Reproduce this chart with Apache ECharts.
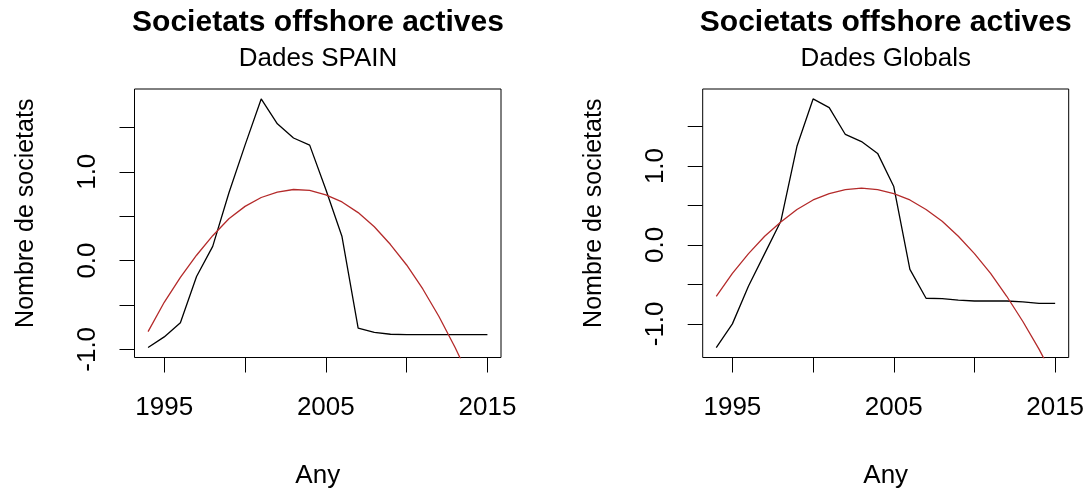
<!DOCTYPE html>
<html>
<head>
<meta charset="utf-8">
<title>Societats offshore actives</title>
<script src="https://cdn.jsdelivr.net/npm/echarts@6/dist/echarts.min.js"></script>
<style>
  html, body { margin: 0; padding: 0; background: #ffffff; }
  #chart { width: 1088px; height: 488px; }
</style>
</head>
<body>
<div id="chart"></div>
<script>
// Years covered by both series
const years = [1994, 1995, 1996, 1997, 1998, 1999, 2000, 2001, 2002, 2003, 2004,
               2005, 2006, 2007, 2008, 2009, 2010, 2011, 2012, 2013, 2014, 2015];

// Standardised count of active offshore companies, Spain
const spainValues = [-0.98, -0.86, -0.70, -0.18, 0.16, 0.76, 1.30, 1.82, 1.54, 1.38, 1.30,
                     0.80, 0.27, -0.76, -0.81, -0.83, -0.835, -0.835, -0.835, -0.835, -0.835, -0.835];
// Quadratic trend for Spain
const spainTrend = [-0.80, -0.47, -0.19, 0.06, 0.28, 0.47, 0.61, 0.71, 0.77, 0.80, 0.79,
                    0.74, 0.66, 0.54, 0.38, 0.18, -0.05, -0.32, -0.63, -0.98, -1.36, -1.78];

// Standardised count of active offshore companies, global data
const globalValues = [-1.30, -1.00, -0.52, -0.11, 0.30, 1.25, 1.85, 1.74, 1.40, 1.31, 1.16,
                      0.74, -0.31, -0.675, -0.68, -0.70, -0.71, -0.71, -0.71, -0.72, -0.74, -0.74];
// Quadratic trend for global data
const globalTrend = [-0.65, -0.36, -0.11, 0.11, 0.29, 0.45, 0.57, 0.65, 0.70, 0.72, 0.70,
                     0.65, 0.57, 0.45, 0.30, 0.11, -0.11, -0.36, -0.65, -0.97, -1.32, -1.71];

// Axis ticks and labels
const xTicks = [1995, 2000, 2005, 2010, 2015];
const xLabels = [1995, 2005, 2015];
const yTicks = [-1.0, -0.5, 0.0, 0.5, 1.0, 1.5];
const yLabels = [-1.0, 0.0, 1.0];

const mainTitle = 'Societats offshore actives';
const subTitles = ['Dades SPAIN', 'Dades Globals'];
const xName = 'Any';
const yName = 'Nombre de societats';

const FONT = '"Liberation Sans", Arial, Helvetica, sans-serif';
const BLACK_LINE = '#000000';
const TREND_LINE = '#b42a2a';

// Range padded by 4% on each side, like a default statistical plot
function paddedRange(values) {
  const lo = Math.min.apply(null, values);
  const hi = Math.max.apply(null, values);
  const pad = (hi - lo) * 0.04;
  return [lo - pad, hi + pad];
}

const xRange = paddedRange(years);
const yRanges = [paddedRange(spainValues), paddedRange(globalValues)];

const panels = [
  { left: 134.5, width: 366.5, center: 318 },
  { left: 702.7, width: 366, center: 885.7 }
];
const gridTop = 89;
const gridHeight = 268.5;

const pairs = (vals) => years.map((y, i) => [y, vals[i]]);

const option = {
  animation: false,
  backgroundColor: '#ffffff',
  title: panels.flatMap((p, i) => [
    {
      text: mainTitle,
      left: p.center, top: 8, padding: 0, textAlign: 'center',
      textStyle: { fontFamily: FONT, fontSize: 30, fontWeight: 'bold', color: '#000' }
    },
    {
      text: subTitles[i],
      left: p.center, top: 46, padding: 0, textAlign: 'center',
      textStyle: { fontFamily: FONT, fontSize: 26, fontWeight: 'normal', color: '#000' }
    }
  ]),
  grid: panels.map(p => ({
    left: p.left, top: gridTop, width: p.width, height: gridHeight,
    show: true, borderColor: '#000', borderWidth: 1, backgroundColor: 'transparent',
    containLabel: false, outerBoundsMode: 'none'
  })),
  xAxis: panels.map((p, i) => ({
    gridIndex: i, type: 'value', min: xRange[0], max: xRange[1],
    name: xName, nameLocation: 'middle', nameGap: 105,
    nameTextStyle: { fontFamily: FONT, fontSize: 26, color: '#000' },
    axisLine: { show: false, onZero: false },
    axisTick: { show: true, length: 15, customValues: xTicks, lineStyle: { color: '#000', width: 1 } },
    axisLabel: {
      customValues: xLabels, margin: 37, fontFamily: FONT, fontSize: 26, color: '#000',
      formatter: v => String(Math.round(v))
    },
    splitLine: { show: false }
  })),
  yAxis: panels.map((p, i) => ({
    gridIndex: i, type: 'value', min: yRanges[i][0], max: yRanges[i][1],
    name: yName, nameLocation: 'middle', nameGap: 96, nameRotate: 90,
    nameTextStyle: { fontFamily: FONT, fontSize: 25, color: '#000', padding: [0, 0, 0, 20] },
    axisLine: { show: false, onZero: false },
    axisTick: { show: true, length: 15, customValues: yTicks, lineStyle: { color: '#000', width: 1 } },
    axisLabel: {
      customValues: yLabels, rotate: 90, margin: 34, fontFamily: FONT, fontSize: 26, color: '#000',
      formatter: v => v.toFixed(1)
    },
    splitLine: { show: false }
  })),
  series: [
    { type: 'line', xAxisIndex: 0, yAxisIndex: 0, data: pairs(spainValues),
      symbol: 'none', clip: true, lineStyle: { color: BLACK_LINE, width: 1.3 } },
    { type: 'line', xAxisIndex: 0, yAxisIndex: 0, data: pairs(spainTrend),
      symbol: 'none', clip: true, lineStyle: { color: TREND_LINE, width: 1.3 } },
    { type: 'line', xAxisIndex: 1, yAxisIndex: 1, data: pairs(globalValues),
      symbol: 'none', clip: true, lineStyle: { color: BLACK_LINE, width: 1.3 } },
    { type: 'line', xAxisIndex: 1, yAxisIndex: 1, data: pairs(globalTrend),
      symbol: 'none', clip: true, lineStyle: { color: TREND_LINE, width: 1.3 } }
  ]
};

const chart = echarts.init(document.getElementById('chart'), null, { renderer: 'canvas' });
chart.setOption(option);
</script>
</body>
</html>
